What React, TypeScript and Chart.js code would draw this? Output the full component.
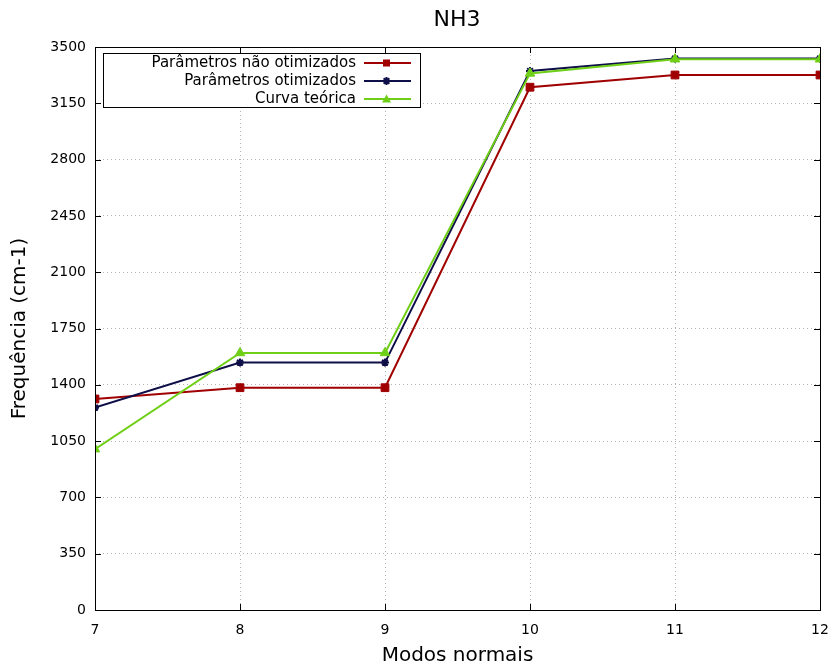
import React, { useEffect, useRef } from "react";
import { Chart, registerables } from "chart.js";

Chart.register(...registerables);

const modes = [7, 8, 9, 10, 11, 12];
const naoOtimizados = [1312, 1382, 1382, 3250, 3326, 3326];
const otimizados = [1258, 1538, 1538, 3351, 3428, 3428];
const curvaTeorica = [1000, 1598, 1598, 3336, 3424, 3424];
const seriesNames = ["Parâmetros não otimizados", "Parâmetros otimizados", "Curva teórica"];
const seriesColors = ["#a00000", "#0e0e48", "#6fcf16"];
const seriesPoints = ["rect", "star", "triangle"];
const yTicks = [0, 350, 700, 1050, 1400, 1750, 2100, 2450, 2800, 3150, 3500];

const FONT = "'DejaVu Sans', sans-serif";

const framePlugin = {
  id: "frame",
  afterDraw(chart: any) {
    const { ctx, chartArea: a } = chart;
    const xs = chart.scales.x;
    const ys = chart.scales.y;
    ctx.save();
    ctx.strokeStyle = "#000";
    ctx.lineWidth = 1;
    ctx.strokeRect(a.left + 0.5, a.top + 0.5, a.right - a.left, a.bottom - a.top);
    // inward ticks
    ctx.beginPath();
    modes.forEach((m) => {
      const px = Math.round(xs.getPixelForValue(m)) + 0.5;
      ctx.moveTo(px, a.bottom);
      ctx.lineTo(px, a.bottom - 6);
      ctx.moveTo(px, a.top);
      ctx.lineTo(px, a.top + 6);
    });
    yTicks.forEach((v) => {
      const py = Math.round(ys.getPixelForValue(v)) + 0.5;
      ctx.moveTo(a.left, py);
      ctx.lineTo(a.left + 6, py);
      ctx.moveTo(a.right, py);
      ctx.lineTo(a.right - 6, py);
    });
    ctx.stroke();
    // legend box
    const bx = 103, by = 53, bw = 317, bh = 54;
    ctx.fillStyle = "#fff";
    ctx.fillRect(bx, by, bw, bh);
    ctx.strokeRect(bx + 0.5, by + 0.5, bw, bh);
    ctx.font = "15px " + FONT;
    ctx.textAlign = "right";
    ctx.textBaseline = "middle";
    chart.data.datasets.forEach((ds: any, i: number) => {
      const y = 63 + i * 18;
      ctx.fillStyle = "#000";
      ctx.fillText(ds.label, 356, y);
      ctx.strokeStyle = ds.borderColor;
      ctx.lineWidth = 2;
      ctx.beginPath();
      ctx.moveTo(364, y);
      ctx.lineTo(411, y);
      ctx.stroke();
      ctx.fillStyle = ds.backgroundColor;
      ctx.lineWidth = 2;
      const style = ds.pointStyle;
      if (style === "rect") {
        ctx.fillRect(383, y - 3.5, 7, 7);
      } else if (style === "triangle") {
        ctx.beginPath();
        ctx.moveTo(386.5, y - 4.5);
        ctx.lineTo(391, y + 3.5);
        ctx.lineTo(382, y + 3.5);
        ctx.closePath();
        ctx.fill();
      } else {
        const r = 4;
        ctx.beginPath();
        for (let k = 0; k < 4; k++) {
          const ang = (k * Math.PI) / 4;
          ctx.moveTo(386.5 - r * Math.cos(ang), y - r * Math.sin(ang));
          ctx.lineTo(386.5 + r * Math.cos(ang), y + r * Math.sin(ang));
        }
        ctx.stroke();
      }
    });
    ctx.restore();
  },
};

export default function App() {
  const ref = useRef<HTMLCanvasElement | null>(null);
  useEffect(() => {
    document.body.style.margin = "0";
    const series = [naoOtimizados, otimizados, curvaTeorica];
    const chart = new Chart(ref.current as HTMLCanvasElement, {
      type: "line",
      data: {
        datasets: series.map((vals, i) => ({
          label: seriesNames[i],
          data: modes.map((m, j) => ({ x: m, y: vals[j] })),
          borderColor: seriesColors[i],
          backgroundColor: seriesColors[i],
          pointStyle: seriesPoints[i] as any,
          pointRadius: i === 1 ? 4 : 5.5,
          pointBorderWidth: i === 1 ? 2 : 1,
          borderWidth: 2,
          tension: 0,
          order: 3 - i,
        })),
      },
      plugins: [framePlugin],
      options: {
        animation: false,
        responsive: false,
        layout: { padding: { top: 47, right: 14, left: 0, bottom: 0 } },
        plugins: {
          legend: { display: false },
          tooltip: { enabled: false },
          title: { display: false },
        },
        scales: {
          x: {
            type: "linear",
            min: 7,
            max: 12,
            ticks: { stepSize: 1, color: "#000", font: { family: FONT, size: 14 }, padding: 12, callback: (v: any) => String(v) },
            grid: { color: "#b4b4b4", tickLength: 0, drawTicks: false },
            border: { display: false, dash: [1, 3] },
            title: { display: true, text: "Modos normais", color: "#000", font: { family: FONT, size: 20 }, padding: { top: 4, bottom: -3 } },
            afterFit: (s: any) => { s.height = 55; s.paddingLeft = 0; s.paddingRight = 0; },
          } as any,
          y: {
            min: 0,
            max: 3500,
            afterBuildTicks: (s: any) => { s.ticks = yTicks.map((v) => ({ value: v })); },
            ticks: { color: "#000", font: { family: FONT, size: 14 }, padding: 9, callback: (v: any) => String(v) },
            grid: { color: "#b4b4b4", drawTicks: false },
            border: { display: false, dash: [1, 3] },
            title: { display: true, text: "Frequência (cm-1)", color: "#000", font: { family: FONT, size: 20 }, padding: { top: 8, bottom: 4 } },
            afterFit: (s: any) => { s.width = 95; s.paddingTop = 0; s.paddingBottom = 0; },
          } as any,
        },
      },
    });
    return () => chart.destroy();
  }, []);
  return (
    <div style={{ position: "relative", width: 834, height: 665 }}>
      <div style={{ position: "absolute", top: 6, left: 0, width: 914, textAlign: "center", font: "22px " + FONT, color: "#000" }}>NH3</div>
      <canvas ref={ref} width={834} height={665} />
    </div>
  );
}
